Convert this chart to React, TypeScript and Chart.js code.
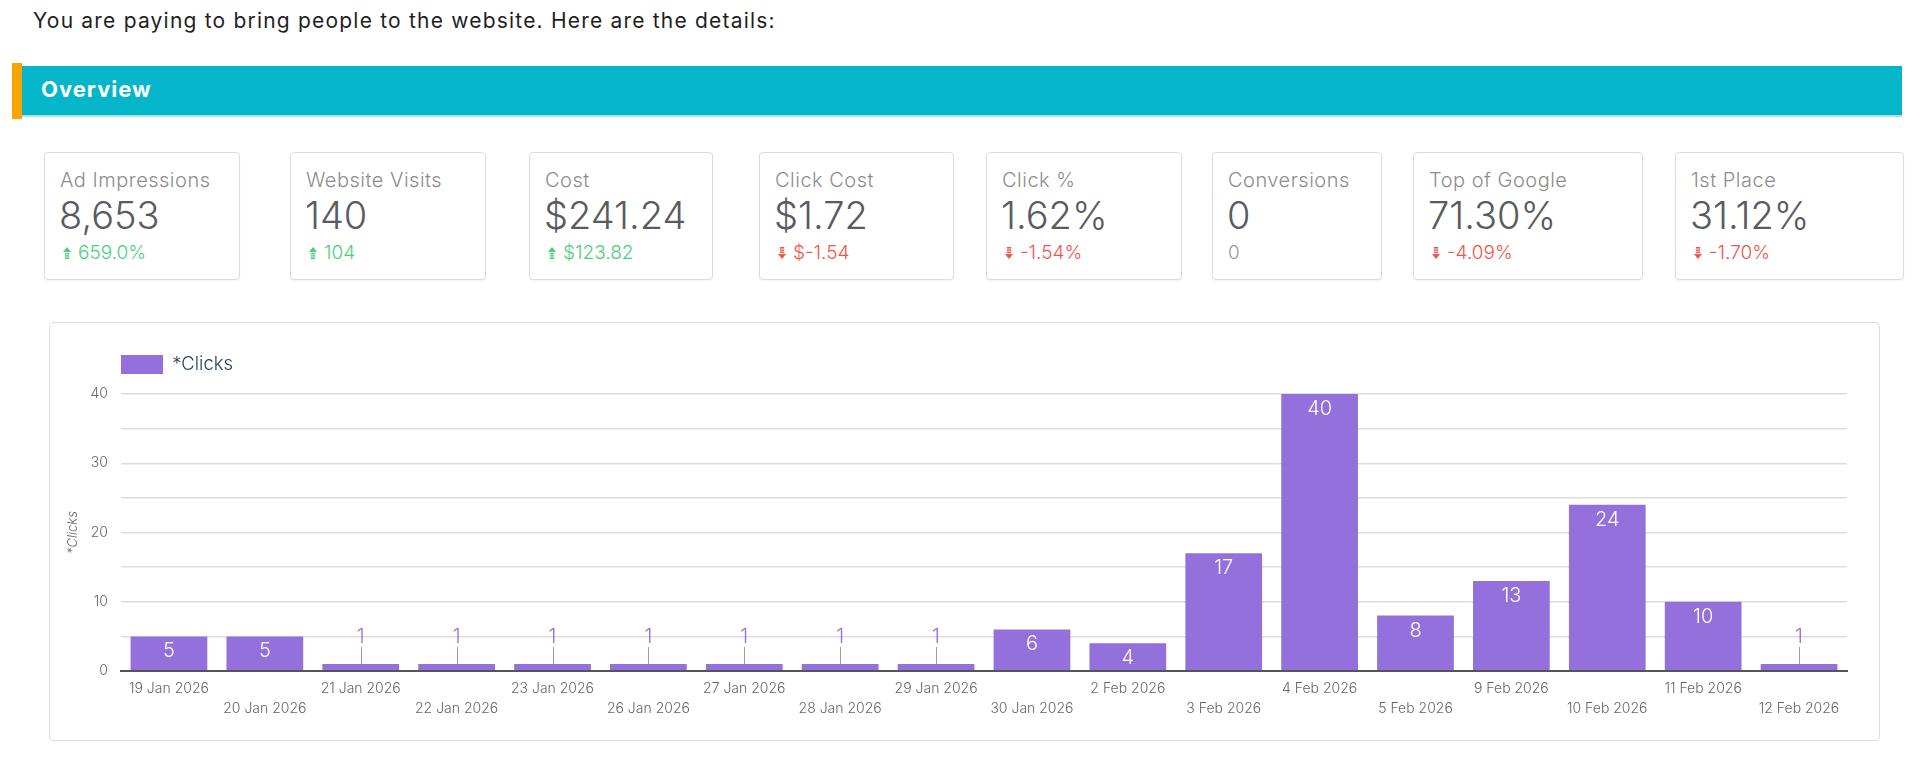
import React, { useEffect, useRef } from "react";
import { Chart, registerables } from "chart.js";

Chart.register(...registerables);

// ---- chart data ----
const dates = [
  "19 Jan 2026", "20 Jan 2026", "21 Jan 2026", "22 Jan 2026", "23 Jan 2026",
  "26 Jan 2026", "27 Jan 2026", "28 Jan 2026", "29 Jan 2026", "30 Jan 2026",
  "2 Feb 2026", "3 Feb 2026", "4 Feb 2026", "5 Feb 2026", "9 Feb 2026",
  "10 Feb 2026", "11 Feb 2026", "12 Feb 2026",
];
const clicks = [5, 5, 1, 1, 1, 1, 1, 1, 1, 6, 4, 17, 40, 8, 13, 24, 10, 1];
const yTickLabels = [0, 10, 20, 30, 40];
const seriesName = "*Clicks";

// ---- overview metrics ----
const metricNames = [
  "Ad Impressions", "Website Visits", "Cost", "Click Cost",
  "Click %", "Conversions", "Top of Google", "1st Place",
];
const metricValues = ["8,653", "140", "$241.24", "$1.72", "1.62%", "0", "71.30%", "31.12%"];
const metricChanges = ["659.0%", "104", "$123.82", "$-1.54", "-1.54%", "0", "-4.09%", "-1.70%"];
const metricTrends = ["up", "up", "up", "down", "down", "flat", "down", "down"];

// card placement along the row
const cardLefts = [44, 290, 529, 759, 986, 1212, 1413, 1675];
const cardWidths = [196, 196, 184, 195, 196, 170, 230, 229];

const BAR = "#9370DB";
const FONT = 'Inter, "Open Sans", sans-serif';

const valueLabels = {
  id: "valueLabels",
  afterDatasetsDraw(chart: any) {
    const { ctx } = chart;
    const meta = chart.getDatasetMeta(0);
    const data = chart.data.datasets[0].data as number[];
    ctx.save();
    ctx.font = `300 20px ${FONT}`;
    ctx.textAlign = "center";
    ctx.textBaseline = "middle";
    meta.data.forEach((bar: any, i: number) => {
      const { x, y, base } = bar.getProps(["x", "y", "base"], true);
      const v = data[i];
      if (base - y >= 24) {
        ctx.fillStyle = "#ffffff";
        ctx.fillText(String(v), x, y + 15);
      } else {
        const lx = Math.round(x) + 0.5;
        ctx.strokeStyle = "#9a9a9a";
        ctx.lineWidth = 1;
        ctx.beginPath();
        ctx.moveTo(lx, y);
        ctx.lineTo(lx, y - 17);
        ctx.stroke();
        ctx.fillStyle = BAR;
        ctx.fillText(String(v), x, y - 27);
      }
    });
    ctx.restore();
  },
};

function ClicksChart() {
  const ref = useRef<HTMLCanvasElement | null>(null);
  useEffect(() => {
    if (!ref.current) return;
    const chart = new Chart(ref.current, {
      type: "bar",
      data: {
        labels: dates,
        datasets: [
          {
            label: seriesName,
            data: clicks,
            backgroundColor: BAR,
            categoryPercentage: 1,
            barPercentage: 0.8,
          },
        ],
      },
      options: {
        animation: false,
        responsive: false,
        maintainAspectRatio: false,
        layout: { padding: { top: 33, left: 12, right: 33, bottom: 25 } },
        plugins: {
          legend: {
            display: true,
            position: "top",
            align: "start",
            fullSize: false,
            labels: {
              boxWidth: 42,
              boxHeight: 19,
              padding: 0,
              color: "#1d3f4f",
              font: { family: FONT, size: 18.5, weight: 300 as any },
            },
          },
          subtitle: {
            display: true,
            text: "",
            position: "top",
            weight: 500,
            padding: 0,
            font: { size: 10, lineHeight: 1 },
          } as any,
          tooltip: { enabled: false },
        },
        scales: {
          x: {
            offset: true,
            grid: { display: false, drawTicks: false },
            border: { display: true, color: "#555555", width: 2 },
            afterFit: (s: any) => {
              s.height = 45;
            },
            ticks: {
              autoSkip: false,
              maxRotation: 0,
              minRotation: 0,
              padding: 8,
              color: "#666666",
              font: { family: FONT, size: 14, lineHeight: 1.4, weight: 300 as any },
              callback: function (this: any, value: any, index: number) {
                const label = this.getLabelForValue(value);
                return index % 2 === 0 ? label : ["", label];
              },
            },
          },
          y: {
            min: 0,
            max: 40,
            afterFit: (s: any) => {
              s.width = 60;
            },
            border: { display: false },
            grid: {
              drawTicks: false,
              color: (c: any) => (c.tick && c.tick.value === 0 ? "#555555" : "#dedede"),
              lineWidth: (c: any) => (c.tick && c.tick.value === 0 ? 2 : 1.5),
            },
            ticks: {
              stepSize: 5,
              padding: 13,
              color: "#666666",
              font: { family: FONT, size: 14, weight: 300 as any },
              callback: (v: any) => (yTickLabels.includes(Number(v)) ? String(v) : ""),
            },
            title: {
              display: true,
              text: seriesName,
              color: "#666666",
              padding: { top: 4, bottom: 0 },
              font: { family: FONT, size: 13, style: "italic", weight: 300 as any },
            },
          },
        },
      },
      plugins: [valueLabels],
    });
    return () => chart.destroy();
  }, []);
  return <canvas ref={ref} width={1831} height={419} style={{ display: "block", width: 1831, height: 419 }} />;
}

function Arrow({ dir, color }: { dir: string; color: string }) {
  // small bold arrow with a striped shaft
  const up = dir === "up";
  return (
    <svg width="8" height="12" viewBox="0 0 8 12" style={{ display: "block" }}>
      <g transform={up ? undefined : "rotate(180 4 6)"} fill={color}>
        <polygon points="4,0 8,5 0,5" />
        <rect x="1.8" y="6" width="4.4" height="1.4" />
        <rect x="1.8" y="8.2" width="4.4" height="1.4" />
        <rect x="1.8" y="10.4" width="4.4" height="1.6" />
      </g>
    </svg>
  );
}

function MetricCard({ i }: { i: number }) {
  const trend = metricTrends[i];
  const color = trend === "up" ? "#4ccf7b" : trend === "down" ? "#f2544b" : "#9a9a9a";
  return (
    <div
      style={{
        position: "absolute",
        left: cardLefts[i],
        top: 152,
        width: cardWidths[i],
        height: 128,
        boxSizing: "border-box",
        border: "1px solid #dcdcdc",
        borderRadius: 4,
        background: "#fff",
        boxShadow: "0 1px 2px rgba(0,0,0,0.05)",
        fontFamily: FONT,
        fontWeight: 300,
        whiteSpace: "nowrap",
      }}
    >
      <div
        style={{
          position: "absolute",
          left: 15,
          top: 14,
          height: 26,
          lineHeight: "26px",
          fontSize: 20,
          letterSpacing: 0.5,
          color: "#8d8d8d",
        }}
      >
        {metricNames[i]}
      </div>
      <div style={{ position: "absolute", left: 14, top: 40, height: 44, lineHeight: "44px", fontSize: 38, color: "#595b60" }}>
        {metricValues[i]}
      </div>
      {trend === "flat" ? (
        <div style={{ position: "absolute", left: 15, top: 89, height: 22, lineHeight: "22px", fontSize: 19, color }}>
          {metricChanges[i]}
        </div>
      ) : (
        <>
          <div style={{ position: "absolute", left: 18, top: 94 }}>
            <Arrow dir={trend} color={color} />
          </div>
          <div style={{ position: "absolute", left: 33, top: 89, height: 22, lineHeight: "22px", fontSize: 19, color }}>
            {metricChanges[i]}
          </div>
        </>
      )}
    </div>
  );
}

export default function App() {
  return (
    <div style={{ position: "absolute", left: 0, top: 0, width: 1920, height: 759, overflow: "hidden", background: "#fff" }}>
      <div
        style={{
          position: "absolute",
          left: 33,
          top: 7,
          lineHeight: "28px",
          fontSize: 21,
          letterSpacing: 1.2,
          color: "#1f1f1f",
          fontFamily: FONT,
          whiteSpace: "nowrap",
        }}
      >
        You are paying to bring people to the website. Here are the details:
      </div>

      {/* section header */}
      <div style={{ position: "absolute", left: 12, top: 63, width: 10, height: 56, background: "#f7a300" }} />
      <div style={{ position: "absolute", left: 22, top: 66, width: 1880, height: 49, background: "#05b6ca" }} />
      <div style={{ position: "absolute", left: 22, top: 115, width: 1880, height: 2, background: "#a8e2ea" }} />
      <div
        style={{
          position: "absolute",
          left: 41,
          top: 75,
          lineHeight: "28px",
          fontSize: 22,
          letterSpacing: 1,
          fontWeight: 700,
          color: "#ffffff",
          fontFamily: FONT,
        }}
      >
        Overview
      </div>

      {metricNames.map((_, i) => (
        <MetricCard key={i} i={i} />
      ))}

      {/* chart panel */}
      <div
        style={{
          position: "absolute",
          left: 49,
          top: 322,
          width: 1831,
          height: 419,
          boxSizing: "border-box",
          border: "1px solid #dddddd",
          borderRadius: 4,
        }}
      />
      <div style={{ position: "absolute", left: 49, top: 322, width: 1831, height: 419 }}>
        <ClicksChart />
      </div>
    </div>
  );
}
